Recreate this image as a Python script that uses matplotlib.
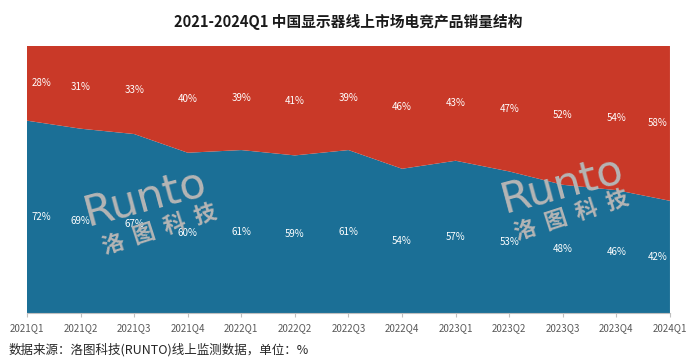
import matplotlib
matplotlib.use('Agg')
import numpy as np
from matplotlib import pyplot as plt

plt.rcParams['font.family'] = ['Noto Sans CJK SC', 'DejaVu Sans']

quarters = ['2021Q1', '2021Q2', '2021Q3', '2021Q4', '2022Q1', '2022Q2', '2022Q3',
            '2022Q4', '2023Q1', '2023Q2', '2023Q3', '2023Q4', '2024Q1']
blue_share = [72, 69, 67, 60, 61, 59, 61, 54, 57, 53, 48, 46, 42]  # lower area
red_share = [28, 31, 33, 40, 39, 41, 39, 46, 43, 47, 52, 54, 58]   # upper area

blue = '#1B6F96'
red = '#C93928'

fig = plt.figure(figsize=(6.97, 3.64), dpi=100)
ax = fig.add_axes([0.0387, 0.140, 0.9225, 0.734])

x = np.arange(len(quarters))
b = np.array(blue_share)
r = np.array(red_share)
ax.stackplot(x, b, r, colors=[blue, red], linewidth=0)

ax.set_xlim(0, len(quarters) - 1)
ax.set_ylim(0, 100)

# data labels in the middle of each band
for i in range(len(quarters)):
    ha = 'center'
    xi = i
    if i == 0:
        ha = 'left'; xi = 0.08
    elif i == len(quarters) - 1:
        ha = 'right'; xi = i - 0.05
    ax.text(xi, b[i] / 2, '%d%%' % b[i], color='white', fontsize=7, ha=ha, va='center')
    ax.text(xi, b[i] + r[i] / 2, '%d%%' % r[i], color='white', fontsize=7, ha=ha, va='center')

# watermarks
for (rx, ry), (cx, cy) in [((0.183, 0.43), (0.207, 0.31)), ((0.832, 0.48), (0.848, 0.36))]:
    ax.text(rx, ry, 'Runto', transform=ax.transAxes, fontsize=31, color='#B5B5B5',
            rotation=15, ha='center', va='center', family='DejaVu Sans')
    ax.text(cx, cy, '洛  图  科  技', transform=ax.transAxes, fontsize=16, color='#B5B5B5',
            rotation=18, ha='center', va='center', fontweight='bold')

ax.set_xticks(x)
ax.set_xticklabels(quarters, fontsize=7, color='#595959')
ax.set_yticks([])
ax.tick_params(axis='x', length=3, color='#BFBFBF', pad=4)
for s in ['top', 'right', 'left']:
    ax.spines[s].set_visible(False)
ax.spines['bottom'].set_color('#BFBFBF')

fig.text(0.5, 0.94, '2021-2024Q1 中国显示器线上市场电竞产品销量结构', ha='center', va='center',
         fontsize=10.6, fontweight='bold', color='#1A1A1A')
fig.text(0.012, 0.04, '数据来源：洛图科技(RUNTO)线上监测数据，单位：%', ha='left', va='center',
         fontsize=9, color='#262626')

fig.savefig('out.png', dpi=100)
